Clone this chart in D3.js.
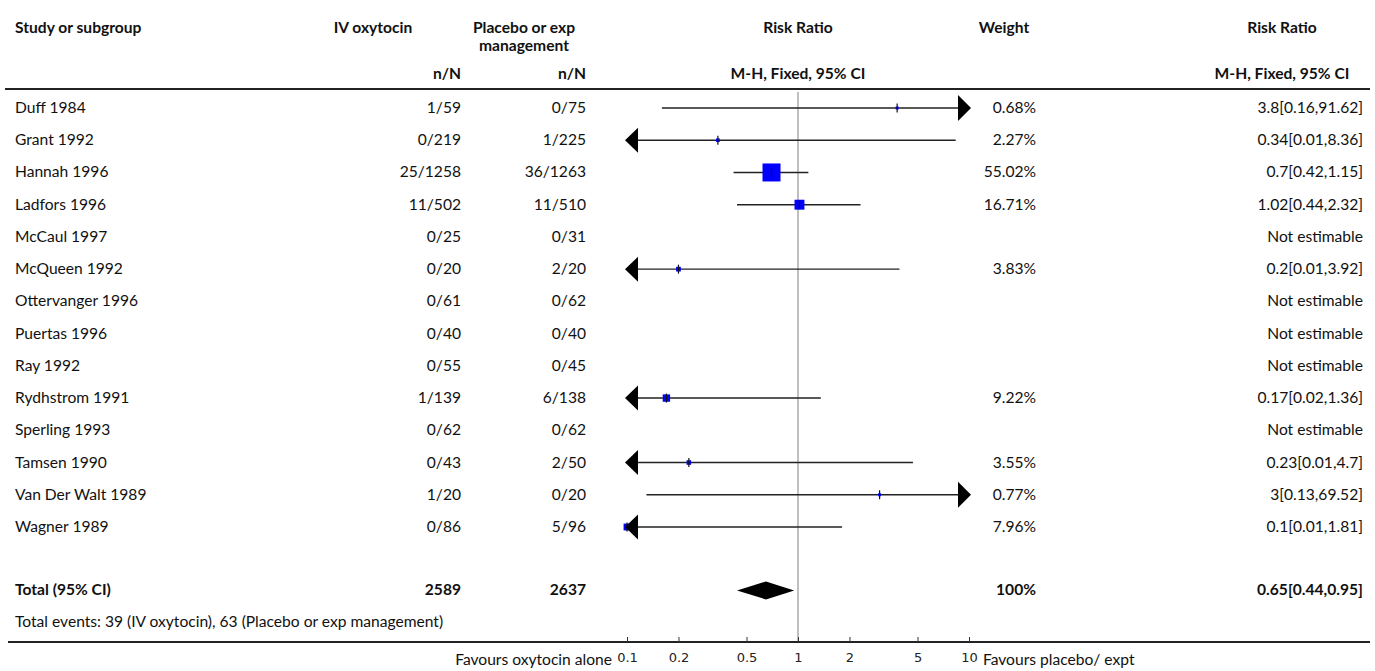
<!DOCTYPE html>
<html>
<head>
<meta charset="utf-8">
<script src="https://cdn.jsdelivr.net/npm/d3@7"></script>
<style>
  body { margin: 0; background: #fff; }
  svg text { font-family: Lato, "Noto Sans", sans-serif; fill: #111; }
</style>
</head>
<body>
<div id="chart"></div>
<script>
// study data
const studies = ['Duff 1984', 'Grant 1992', 'Hannah 1996', 'Ladfors 1996', 'McCaul 1997', 'McQueen 1992',
    'Ottervanger 1996', 'Puertas 1996', 'Ray 1992', 'Rydhstrom 1991', 'Sperling 1993', 'Tamsen 1990',
    'Van Der Walt 1989', 'Wagner 1989']
const ivEvents = [1, 0, 25, 11, 0, 0, 0, 0, 0, 1, 0, 0, 1, 0]
const ivTotal = [59, 219, 1258, 502, 25, 20, 61, 40, 55, 139, 62, 43, 20, 86]
const plEvents = [0, 1, 36, 11, 0, 2, 0, 0, 0, 6, 0, 2, 0, 5]
const plTotal = [75, 225, 1263, 510, 31, 20, 62, 40, 45, 138, 62, 50, 20, 96]
const weights = [0.68, 2.27, 55.02, 16.71, null, 3.83, null, null, null, 9.22, null, 3.55, 0.77, 7.96]
const rr = [3.8, 0.34, 0.7, 1.02, null, 0.2, null, null, null, 0.17, null, 0.23, 3, 0.1]
const lo = [0.16, 0.01, 0.42, 0.44, null, 0.01, null, null, null, 0.02, null, 0.01, 0.13, 0.01]
const hi = [91.62, 8.36, 1.15, 2.32, null, 3.92, null, null, null, 1.36, null, 4.7, 69.52, 1.81]

const total = {label: 'Total (95% CI)', iv: 2589, pl: 2637, weight: '100%', rr: 0.65, lo: 0.44, hi: 0.95}
const totalEvents = 'Total events: 39 (IV oxytocin), 63 (Placebo or exp management)'
const tickValues = [0.1, 0.2, 0.5, 1, 2, 5, 10]

let width = 1375, height = 671
let fs = 15.6

let svg = d3.select('#chart').append('svg')
    .attr('width', width)
    .attr('height', height)

// column positions
let col = {study: 15, ivRight: 461, ivHead: 373, plRight: 586, plHead: 524, plot: 798, wRight: 1036, wHead: 1004, rrRight: 1363, rrHead: 1282}

// scales
let x = d3.scaleLog().domain([0.1, 10]).range([627, 969])
let y = d3.scaleLinear().domain([0, 1]).range([108, 108 + 32.23])
let size = d3.scaleSqrt().domain([0, 55.02]).range([0, 18])

// header
let head = svg.append('g').attr('font-weight', 'bold').attr('font-size', fs)
head.append('text').attr('x', col.study).attr('y', 33).text('Study or subgroup')
head.append('text').attr('x', col.ivHead).attr('y', 33).attr('text-anchor', 'middle').text('IV oxytocin')
head.append('text').attr('x', col.plHead).attr('y', 33).attr('text-anchor', 'middle').text('Placebo or exp')
head.append('text').attr('x', col.plHead).attr('y', 51).attr('text-anchor', 'middle').text('management')
head.append('text').attr('x', col.plot).attr('y', 33).attr('text-anchor', 'middle').text('Risk Ratio')
head.append('text').attr('x', col.wHead).attr('y', 33).attr('text-anchor', 'middle').text('Weight')
head.append('text').attr('x', col.rrHead).attr('y', 33).attr('text-anchor', 'middle').text('Risk Ratio')
head.append('text').attr('x', col.ivRight).attr('y', 79).attr('text-anchor', 'end').text('n/N')
head.append('text').attr('x', col.plRight).attr('y', 79).attr('text-anchor', 'end').text('n/N')
head.append('text').attr('x', col.plot).attr('y', 79).attr('text-anchor', 'middle').text('M-H, Fixed, 95% CI')
head.append('text').attr('x', col.rrHead).attr('y', 79).attr('text-anchor', 'middle').text('M-H, Fixed, 95% CI')

svg.append('line')
    .attr('x1', 5).attr('x2', 1370).attr('y1', 89).attr('y2', 89)
    .attr('stroke', '#222').attr('stroke-width', 2)

// line of no effect
svg.append('line')
    .attr('x1', x(1)).attr('x2', x(1)).attr('y1', 92).attr('y2', 641)
    .attr('stroke', '#aaa').attr('stroke-width', 1.5)

// table rows
let rows = svg.append('g').attr('font-size', fs)
studies.forEach((s, i) => {
    let yy = y(i) + 5
    rows.append('text').attr('x', col.study).attr('y', yy).text(s)
    rows.append('text').attr('x', col.ivRight).attr('y', yy).attr('text-anchor', 'end').text(`${ivEvents[i]}/${ivTotal[i]}`)
    rows.append('text').attr('x', col.plRight).attr('y', yy).attr('text-anchor', 'end').text(`${plEvents[i]}/${plTotal[i]}`)
    if (weights[i] !== null) {
        rows.append('text').attr('x', col.wRight).attr('y', yy).attr('text-anchor', 'end').text(`${weights[i]}%`)
        rows.append('text').attr('x', col.rrRight).attr('y', yy).attr('text-anchor', 'end').text(`${rr[i]}[${lo[i]},${hi[i]}]`)
    } else {
        rows.append('text').attr('x', col.rrRight).attr('y', yy).attr('text-anchor', 'end').text('Not estimable')
    }
})

// CI lines, squares, arrows
let plot = svg.append('g')
let [dMin, dMax] = x.domain()
studies.forEach((s, i) => {
    if (rr[i] === null) return
    let yy = y(i)
    let xl = lo[i] < dMin ? x(dMin) + 10 : x(lo[i])
    let xr = hi[i] > dMax ? x(dMax) - 10 : x(hi[i])
    plot.append('line')
        .attr('x1', xl).attr('x2', xr).attr('y1', yy).attr('y2', yy)
        .attr('stroke', '#222').attr('stroke-width', 1.4)
    let sq = Math.max(size(weights[i]), 3)
    let cx = x(Math.max(rr[i], dMin))
    plot.append('rect')
        .attr('x', cx - sq / 2).attr('y', yy - sq / 2)
        .attr('width', sq).attr('height', sq)
        .attr('fill', '#0000ff')
    plot.append('line')
        .attr('x1', cx).attr('x2', cx).attr('y1', yy - 4.5).attr('y2', yy + 4.5)
        .attr('stroke', '#111').attr('stroke-width', 1.2)
    if (lo[i] < dMin) {
        let tip = x(dMin) - 2
        plot.append('path')
            .attr('d', `M${tip},${yy} L${tip + 13},${yy - 12.5} L${tip + 13},${yy + 12.5} Z`)
            .attr('fill', '#000')
    }
    if (hi[i] > dMax) {
        let tip = x(dMax) + 2
        plot.append('path')
            .attr('d', `M${tip},${yy} L${tip - 13},${yy - 13} L${tip - 13},${yy + 13} Z`)
            .attr('fill', '#000')
    }
})

// total row
let ty = y(studies.length + 1) - 1
let tot = svg.append('g').attr('font-size', fs).attr('font-weight', 'bold')
tot.append('text').attr('x', col.study).attr('y', ty + 5).text(total.label)
tot.append('text').attr('x', col.ivRight).attr('y', ty + 5).attr('text-anchor', 'end').text(total.iv)
tot.append('text').attr('x', col.plRight).attr('y', ty + 5).attr('text-anchor', 'end').text(total.pl)
tot.append('text').attr('x', col.wRight).attr('y', ty + 5).attr('text-anchor', 'end').text(total.weight)
tot.append('text').attr('x', col.rrRight).attr('y', ty + 5).attr('text-anchor', 'end')
    .text(`${total.rr}[${total.lo},${total.hi}]`)

plot.append('path')
    .attr('d', `M${x(total.lo)},${ty} L${x(total.rr)},${ty - 9} L${x(total.hi)},${ty} L${x(total.rr)},${ty + 9} Z`)
    .attr('fill', '#000')

svg.append('text').attr('font-size', fs)
    .attr('x', col.study).attr('y', ty + 32 + 5).text(totalEvents)

// bottom axis
let axisY = 642
svg.append('line')
    .attr('x1', 8).attr('x2', 1370).attr('y1', axisY).attr('y2', axisY)
    .attr('stroke', '#222').attr('stroke-width', 2)

let axis = svg.append('g')
    .attr('transform', `translate(0, ${axisY})`)
    .call(d3.axisTop(x).tickValues(tickValues).tickFormat(d => d).tickSize(5))
axis.select('.domain').remove()
axis.selectAll('.tick line').attr('stroke', '#333')
axis.selectAll('.tick text')
    .attr('y', 20).attr('dy', 0)
    .style('font-size', '13px')
    .style('font-family', '"DejaVu Sans", sans-serif')
    .style('fill', '#222')

svg.append('text').attr('font-size', fs)
    .attr('x', 612).attr('y', 665).attr('text-anchor', 'end').text('Favours oxytocin alone')
svg.append('text').attr('font-size', fs)
    .attr('x', 983).attr('y', 665).text('Favours placebo/ expt')
</script>
</body>
</html>
